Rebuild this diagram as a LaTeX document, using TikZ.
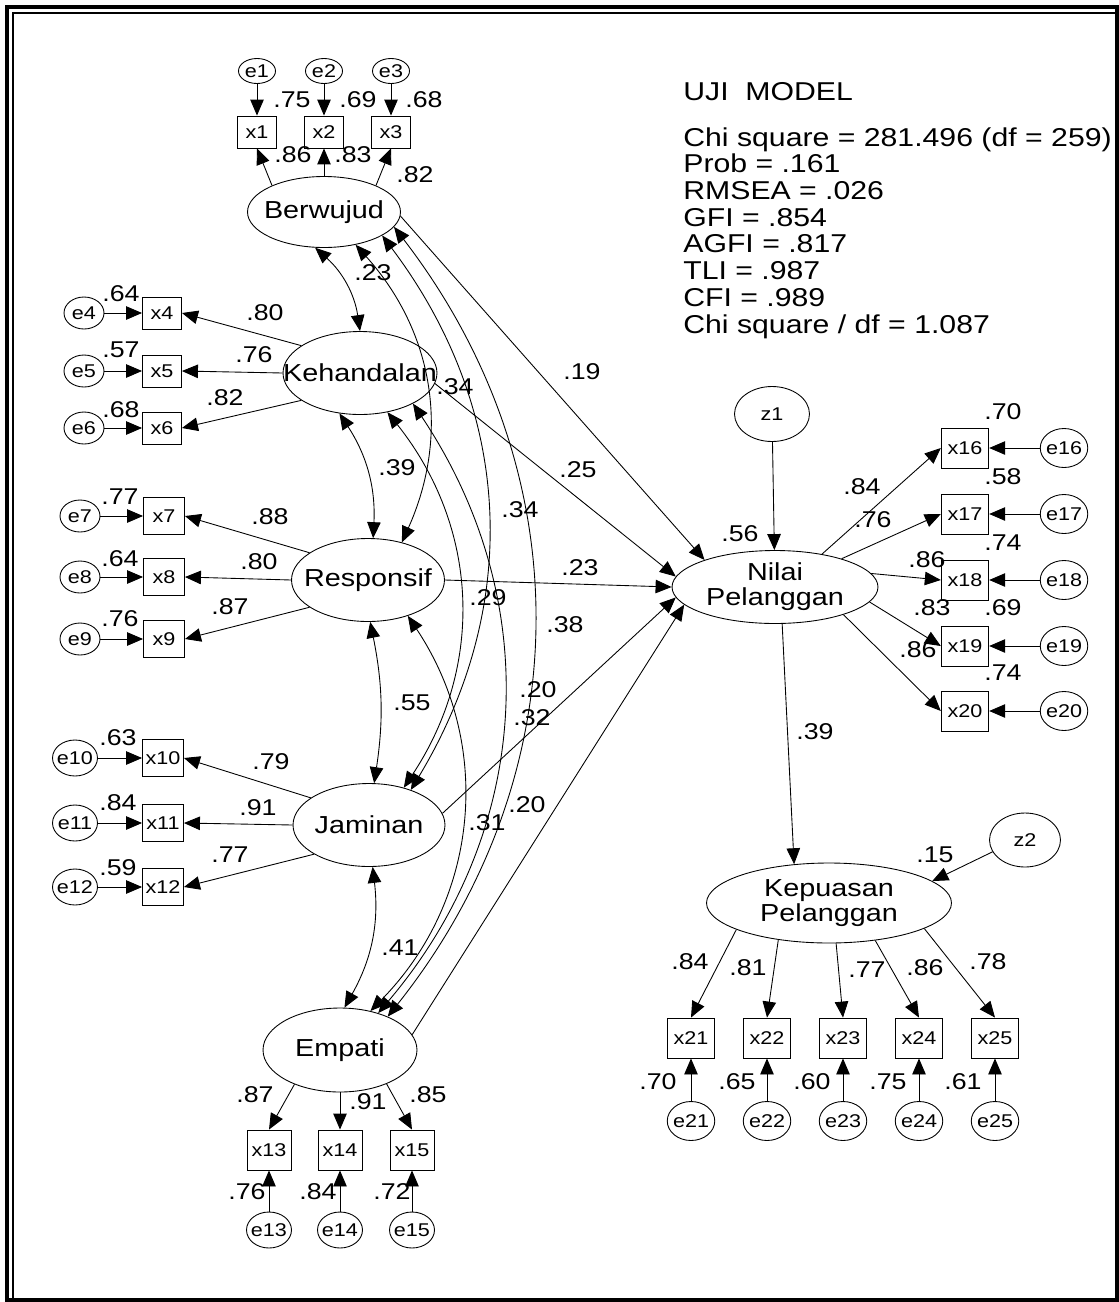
\documentclass[tikz,border=0pt]{standalone}
\usepackage{fontspec}
\setmainfont{Liberation Sans}[FakeStretch=1.17]
\usetikzlibrary{shapes.geometric}
\usetikzlibrary{arrows.meta}

\newcommand\latfont{\fontsize{14}{14.2}\selectfont}
\newcommand\lblfont{\fontsize{13}{13}\selectfont}
\newcommand\obsfont{\fontsize{10.5}{11}\selectfont}
\newcommand\fitfont{\fontsize{14.7}{15.2}\selectfont}

\tikzset{
  latent/.style={ellipse, draw, line width=0.5pt, inner sep=0pt,
                 label={[font=\latfont, align=center]center:#1}},
  obs/.style={rectangle, draw, line width=0.5pt, inner sep=0pt, font=\obsfont},
  err/.style={ellipse, draw, line width=0.5pt, inner sep=-1.5pt, font=\obsfont},
  obsA/.style={minimum width=0.78cm, minimum height=0.64cm},
  obsB/.style={minimum width=0.82cm, minimum height=0.74cm},
  obsC/.style={minimum width=0.88cm, minimum height=0.8cm},
  obsD/.style={minimum width=0.95cm, minimum height=0.8cm},
  errA/.style={minimum width=0.74cm, minimum height=0.5cm},
  errB/.style={minimum width=0.8cm, minimum height=0.64cm},
  errC/.style={minimum width=0.9cm, minimum height=0.72cm},
  errD/.style={minimum width=0.95cm, minimum height=0.78cm},
  lbl/.style={inner sep=0pt, font=\lblfont},
  reg/.style={line width=0.5pt, -{Triangle[length=0.32cm, width=0.27cm]}},
  cov/.style={line width=0.5pt,
              {Triangle[length=0.32cm, width=0.27cm]}-{Triangle[length=0.32cm, width=0.27cm]}},
}

\begin{document}
\begin{tikzpicture}[x=0.02cm, y=0.02cm]
  \useasboundingbox (0,0) rectangle (1119,-1302);

  % double frame
  \draw[line width=2pt] (7,-7) rectangle (1117,-1300);
  \draw[line width=0.85pt] (13,-1298) -- (13,-13) -- (1115,-13);

  % latent variables
  \node[latent=Berwujud, minimum width=3.06cm, minimum height=1.42cm] (Berwujud) at (324,-212) {};
  \node[latent=Kehandalan, minimum width=3.08cm, minimum height=1.66cm] (Kehandalan) at (360,-373) {};
  \node[latent=Responsif, minimum width=3.06cm, minimum height=1.66cm] (Responsif) at (368,-580) {};
  \node[latent=Jaminan, minimum width=3.04cm, minimum height=1.66cm] (Jaminan) at (369,-825) {};
  \node[latent=Empati, minimum width=3.08cm, minimum height=1.68cm] (Empati) at (340,-1050) {};
  \node[latent={Nilai\\Pelanggan}, minimum width=4.12cm, minimum height=1.46cm] (Nilai) at (775,-587) {};
  \node[latent={Kepuasan\\Pelanggan}, minimum width=4.9cm, minimum height=1.6cm] (Kepuasan) at (829,-903) {};

  % disturbances
  \node[err, minimum width=1.5cm, minimum height=1.1cm] (z1) at (772,-414) {z1};
  \node[err, minimum width=1.42cm, minimum height=1.08cm] (z2) at (1025,-840) {z2};

  % Berwujud indicators
  \foreach \i/\xx in {1/257, 2/324, 3/391} {
    \node[err, errA] (e\i) at (\xx,-71) {e\i};
    \node[obs, obsA] (x\i) at (\xx,-132) {x\i};
    \draw[reg] (e\i) -- (x\i);
  }
  \draw[reg] (Berwujud.153) -- (x1.south);
  \draw[reg] (Berwujud.north) -- (x2.south);
  \draw[reg] (Berwujud.27) -- (x3.south);

  % Kehandalan indicators
  \foreach \i/\yy in {4/313, 5/371, 6/428} {
    \node[err, errB] (e\i) at (84,-\yy) {e\i};
    \node[obs, obsA] (x\i) at (162,-\yy) {x\i};
    \draw[reg] (e\i) -- (x\i);
  }
  \draw[reg] (Kehandalan.155) -- (x4.east);
  \draw[reg] (Kehandalan.west) -- (x5.east);
  \draw[reg] (Kehandalan.205) -- (x6.east);

  % Responsif indicators
  \foreach \i/\yy in {7/516, 8/577, 9/639} {
    \node[err, errB] (e\i) at (80,-\yy) {e\i};
    \node[obs, obsB] (x\i) at (164,-\yy) {x\i};
    \draw[reg] (e\i) -- (x\i);
  }
  \draw[reg] (Responsif.155) -- (x7.east);
  \draw[reg] (Responsif.west) -- (x8.east);
  \draw[reg] (Responsif.205) -- (x9.east);

  % Jaminan indicators
  \foreach \i/\yy in {10/758, 11/823, 12/887} {
    \node[err, errC] (e\i) at (75,-\yy) {e\i};
    \node[obs, obsB] (x\i) at (163,-\yy) {x\i};
    \draw[reg] (e\i) -- (x\i);
  }
  \draw[reg] (Jaminan.155) -- (x10.east);
  \draw[reg] (Jaminan.west) -- (x11.east);
  \draw[reg] (Jaminan.208) -- (x12.east);

  % Empati indicators
  \foreach \i/\xx in {13/269, 14/340, 15/412} {
    \node[err, errC] (e\i) at (\xx,-1230) {e\i};
    \node[obs, obsC] (x\i) at (\xx,-1150) {x\i};
    \draw[reg] (e\i) -- (x\i);
  }
  \draw[reg] (Empati.217) -- (x13.north);
  \draw[reg] (Empati.south) -- (x14.north);
  \draw[reg] (Empati.324) -- (x15.north);

  % Nilai Pelanggan indicators
  \foreach \i/\yy/\a in {16/448/35, 17/514/23, 18/580/8, 19/646/351, 20/711/338} {
    \node[obs, obsD] (x\i) at (965,-\yy) {x\i};
    \node[err, errD] (e\i) at (1064,-\yy) {e\i};
    \draw[reg] (e\i) -- (x\i);
    \draw[reg] (Nilai.\a) -- (x\i.west);
  }

  % Kepuasan Pelanggan indicators
  \foreach \i/\xx/\a in {21/691/196, 22/767/216, 23/843/280, 24/919/321, 25/995/345} {
    \node[obs, obsD] (x\i) at (\xx,-1038) {x\i};
    \node[err, errD] (e\i) at (\xx,-1121) {e\i};
    \draw[reg] (e\i) -- (x\i);
    \draw[reg] (Kepuasan.\a) -- (x\i.north);
  }

  % structural paths
  \draw[reg] (z1) -- (Nilai);
  \draw[reg] (z2.200) -- (Kepuasan.12);
  \draw[reg] (Nilai.281) -- (Kepuasan.132);
  \draw[reg] (Berwujud.357) -- (Nilai.159);
  \draw[reg] (Kehandalan.352) -- (Nilai.174);
  \draw[reg] (Responsif.east) -- (Nilai.west);
  \draw[reg] (Jaminan.9) -- (Nilai.186);
  \draw[reg] (Empati.12) -- (Nilai.191);

  % covariances between the exogenous factors
  \draw[cov] (Berwujud.256) to[bend left=20] (Kehandalan.north);
  \draw[cov] (Berwujud.314) to[bend left=33] (Responsif.48);
  \draw[cov] (Berwujud.338) to[bend left=34] (Jaminan.40);
  \draw[cov] (Berwujud.348) to[bend left=38] (Empati.35);
  \draw[cov] (Kehandalan.243) to[bend left=18] (Responsif.83);
  \draw[cov] (Kehandalan.305) to[bend left=36] (Jaminan.47);
  \draw[cov] (Kehandalan.330) to[bend left=37] (Empati.44);
  \draw[cov] (Responsif.273) to[bend left=10] (Jaminan.83);
  \draw[cov] (Responsif.318) to[bend left=39] (Empati.52);
  \draw[cov] (Jaminan.275) to[bend left=18] (Empati.84);

  % estimates, left side
  \foreach \pos/\txt [count=\k] in {{292,-100}/.75, {358,-100}/.69, {424,-100}/.68,
      {293,-155}/.86, {353,-155}/.83, {415,-175}/.82,
      {121,-294}/.64, {121,-350}/.57, {121,-410}/.68,
      {265,-313}/.80, {254,-355}/.76, {225,-398}/.82,
      {120,-497}/.77, {120,-559}/.64, {120,-619}/.76,
      {270,-517}/.88, {259,-562}/.80, {230,-607}/.87,
      {118,-738}/.63, {118,-803}/.84, {118,-868}/.59,
      {271,-762}/.79, {258,-808}/.91, {230,-855}/.77,
      {255,-1095}/.87, {368,-1102}/.91, {428,-1095}/.85,
      {247,-1192}/.76, {318,-1192}/.84, {392,-1192}/.72}
    \node[lbl] (lbL\k) at (\pos) {\txt};

  % estimates on paths and covariances
  \foreach \pos/\txt [count=\k] in {{373,-273}/.23, {455,-387}/.34, {397,-468}/.39,
      {520,-510}/.34, {488,-598}/.29, {565,-625}/.38, {412,-703}/.55,
      {538,-690}/.20, {532,-718}/.32, {527,-805}/.20, {487,-823}/.31,
      {400,-948}/.41, {582,-372}/.19, {578,-470}/.25, {580,-568}/.23}
    \node[lbl] (lbM\k) at (\pos) {\txt};

  % estimates, right side
  \foreach \pos/\txt [count=\k] in {{740,-534}/.56, {1003,-412}/.70, {1003,-477}/.58,
      {1003,-543}/.74, {1003,-608}/.69, {1003,-673}/.74,
      {862,-487}/.84, {873,-520}/.76, {927,-560}/.86, {932,-608}/.83, {918,-650}/.86,
      {815,-732}/.39, {935,-855}/.15,
      {690,-962}/.84, {748,-968}/.81, {867,-970}/.77, {925,-968}/.86, {988,-962}/.78,
      {658,-1082}/.70, {737,-1082}/.65, {812,-1082}/.60, {888,-1082}/.75, {963,-1082}/.61}
    \node[lbl] (lbR\k) at (\pos) {\txt};

  % fit indices
  \node[anchor=west, inner sep=0pt, font=\fitfont] (title) at (683,-92) {UJI\ \ MODEL};
  \node[anchor=north west, inner sep=0pt, font=\fitfont, align=left] (fit) at (683,-127)
    {Chi square = 281.496 (df = 259)\\
     Prob = .161\\
     RMSEA = .026\\
     GFI = .854\\
     AGFI = .817\\
     TLI = .987\\
     CFI = .989\\
     Chi square / df = 1.087};
\end{tikzpicture}
\end{document}
